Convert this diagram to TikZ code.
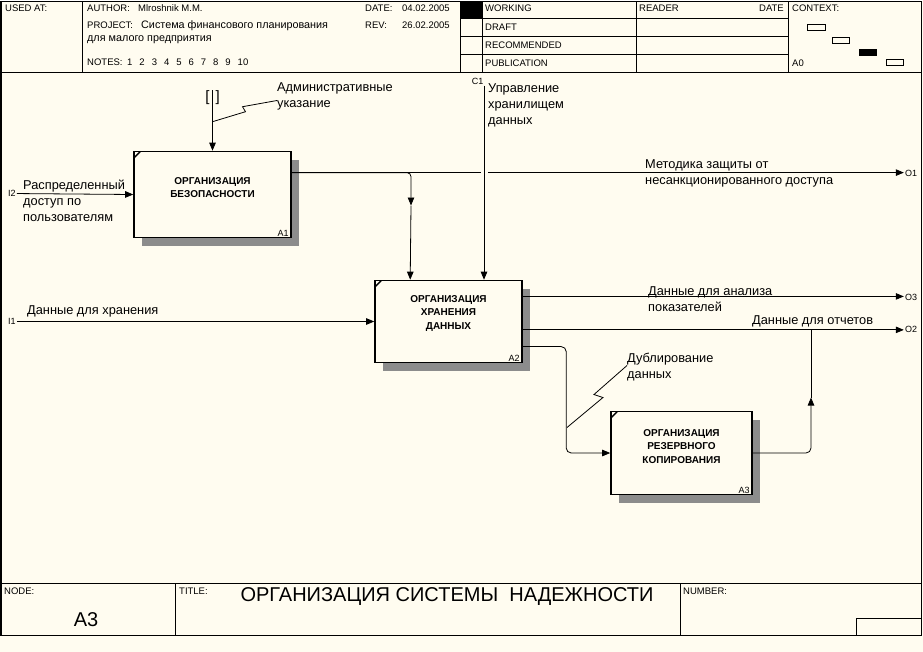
\documentclass[tikz,border=0pt]{standalone}
\usepackage{fontspec}
\setmainfont{Liberation Sans}
\usetikzlibrary{arrows.meta, positioning, calc, patterns, shadows}
\definecolor{paper}{RGB}{255,252,240}

\tikzset{
  border/.style={line width=0.8pt},
  wire/.style={line width=0.8pt},
  flow/.style={line width=0.8pt, -{Triangle[length=8pt, width=6.5pt]}},
  process/.style={draw, line width=1.6pt, fill=paper, inner sep=0pt,
    general shadow={fill=black!45, shadow xshift=8pt, shadow yshift=-8pt}},
  boxlabel/.style={font=\fontsize{10}{13.5}\selectfont\bfseries, align=center},
  note/.style={font=\fontsize{12.8}{16}\selectfont, align=left, anchor=west, inner sep=0pt},
  tag/.style={font=\fontsize{9}{10}\selectfont, inner sep=1pt},
  head/.style={font=\fontsize{9.5}{11}\selectfont, anchor=west, inner sep=0pt},
  headru/.style={font=\fontsize{10.8}{12}\selectfont, anchor=west, inner sep=0pt},
  smalltag/.style={font=\fontsize{9.5}{10}\selectfont, anchor=west, inner sep=0pt},
}

\begin{document}
\begin{tikzpicture}[x=1pt, y=-1pt]
% paper, frame and header grid
\fill[paper] (0,0) rectangle (923,651);
\draw[border] (1.5,0.5) rectangle (921,635);
\draw[line width=2pt] (1,0.5) -- (1,635);
\draw[border] (1.5,72) -- (921,72);
\foreach \x in {82,460,482,636,788} \draw[border] (\x,0.5) -- (\x,72);
\foreach \y in {17.5,35.5,53.5} \draw[border] (460,\y) -- (788,\y);
\fill (460,0.5) rectangle (482,17.5);

% header texts
\node[head] (usedat) at (5,8) {USED AT:};
\node[head] (author) at (87,8) {AUTHOR:};
\node[head] (authorname) at (138,8) {Mlroshnik M.M.};
\node[head] (date) at (365,8) {DATE:};
\node[head] (dateval) at (402,8) {04.02.2005};
\node[head] (project) at (87,25) {PROJECT:};
\node[headru] (projectname) at (141,25) {Система финансового планирования};
\node[headru] (projectname2) at (87,39) {для малого предприятия};
\node[head] (rev) at (365,25) {REV:};
\node[head] (revval) at (402,25) {26.02.2005};
\node[head] (notes) at (87,62) {NOTES:};
\node[head] (notesval) at (127,62) {1\hspace{7pt}2\hspace{7pt}3\hspace{7pt}4\hspace{7pt}5\hspace{7pt}6\hspace{7pt}7\hspace{7pt}8\hspace{7pt}9\hspace{7pt}10};
\node[head] (working) at (485,8) {WORKING};
\node[head] (draft) at (485,27) {DRAFT};
\node[head] (recommended) at (485,45) {RECOMMENDED};
\node[head] (publication) at (485,63) {PUBLICATION};
\node[head] (reader) at (639,8) {READER};
\node[head, anchor=east] (readerdate) at (784,8) {DATE};
\node[head] (context) at (792,8) {CONTEXT:};
\node[head] (contextid) at (792,63) {A0};

% context map
\draw[border] (807,24) rectangle (825,30);
\draw[border] (832,37) rectangle (849,43);
\fill (859,48) rectangle (877,55);
\draw[border] (886,59) rectangle (903,65);

% footer
\draw[border] (1.5,583) -- (921,583);
\draw[border] (175,583) -- (175,635);
\draw[border] (680,583) -- (680,635);
\draw[border] (856,635) |- (921,618);
\node[smalltag] (nodelbl) at (4,591) {NODE:};
\node[font=\fontsize{20}{20}\selectfont] (nodeid) at (86,619) {A3};
\node[smalltag] (titlelbl) at (179,591) {TITLE:};
\node[font=\fontsize{20}{20}\selectfont] (title) at (447,596) {ОРГАНИЗАЦИЯ СИСТЕМЫ\ \ НАДЕЖНОСТИ};
\node[smalltag] (numberlbl) at (683,591) {NUMBER:};

% activity boxes
\node[process, minimum width=157pt, minimum height=86pt] (a1) at (212.5,194) {};
\node[process, minimum width=147pt, minimum height=82pt] (a2) at (448.5,321) {};
\node[process, minimum width=141pt, minimum height=83pt] (a3) at (681.5,452.5) {};
\node[boxlabel] (a1txt) at (212.5,187) {ОРГАНИЗАЦИЯ\\БЕЗОПАСНОСТИ};
\node[boxlabel] (a2txt) at (448.5,312.5) {ОРГАНИЗАЦИЯ\\ХРАНЕНИЯ\\ДАННЫХ};
\node[boxlabel] (a3txt) at (681.5,446) {ОРГАНИЗАЦИЯ\\РЕЗЕРВНОГО\\КОПИРОВАНИЯ};
\node[tag, anchor=south east] (a1id) at ($(a1.south east)+(-2,-1)$) {A1};
\node[tag, anchor=south east] (a2id) at ($(a2.south east)+(-2,-1)$) {A2};
\node[tag, anchor=south east] (a3id) at ($(a3.south east)+(-2,-1)$) {A3};
\draw[line width=1.4pt] ($(a1.north west)+(1,7)$) -- ($(a1.north west)+(7,1)$);
\draw[line width=1.4pt] ($(a2.north west)+(1,7)$) -- ($(a2.north west)+(7,1)$);
\draw[line width=1.4pt] ($(a3.north west)+(1,7)$) -- ($(a3.north west)+(7,1)$);

% boundary tags
\node[tag] (i2) at (12,193) {I2};
\node[tag] (i1) at (12,321) {I1};
\node[tag, anchor=south east, inner sep=0.5pt] (c1) at (484,85) {C1};
\node[tag] (o1) at (911,172.5) {O1};
\node[tag] (o3) at (911,296.4) {O3};
\node[tag] (o2) at (911,329.2) {O2};
\node[font=\fontsize{15}{15}\selectfont, inner sep=0pt] (tun) at (212.5,97) {[\hspace{6pt}]};

% arrow points on the boxes
\coordinate (a1out) at ($(a1.north east)!0.25!(a1.south east)$);
\coordinate (a2out3) at ($(a2.north east)!0.2!(a2.south east)$);
\coordinate (a2out2) at ($(a2.north east)!0.6!(a2.south east)$);
\coordinate (a2out4) at ($(a2.north east)!0.8!(a2.south east)$);
\coordinate (a2ctl1) at ($(a2.north west)+(36,0)$);
\coordinate (a2ctl2) at (c1.south east |- a2.north);
\coordinate (mid1) at (411,205);
\coordinate (mid3) at (811,397);

% arrows
\draw[flow] (i2) -- (a1.west);
\draw[flow] (tun.north) -- (a1.north);
\draw[flow] (a1out) -- (a1out -| o1.west);
\draw[flow, rounded corners=4pt] (a1out) -| (mid1);
\draw[flow] (mid1) -- (a2ctl1);
\draw[flow, preaction={draw=paper, line width=7pt, -}] (c1.south east) -- (a2ctl2);
\draw[flow] (i1) -- (a2.west);
\draw[flow] (a2out3) -- (a2out3 -| o3.west);
\draw[flow] (a2out2) -- (a2out2 -| o2.west);
\draw[flow, rounded corners=5pt] (a2out4) -| ($(a3.west)+(-44,0)$) -- (a3.west);
\draw[flow, rounded corners=5pt] (a3.east) -| (mid3);
\draw[wire, rounded corners=3pt] (mid3) -- (mid3 |- a2out2);

% arrow labels
\node[note] (i2txt) at (23,200) {Распределенный\\доступ по\\пользователям};
\node[note] (admtxt) at (277,96) {Административные\\указание};
\node[note] (c1txt) at (488,105) {Управление\\хранилищем\\данных};
\node[note] (o1txt) at (645,173) {Методика защиты от\\несанкционированного доступа};
\node[note] (i1txt) at (27,311) {Данные для хранения};
\node[note] (o3txt) at (648,299) {Данные для анализа\\показателей};
\node[note] (o2txt) at (752,321) {Данные для отчетов};
\node[note] (duptxt) at (627,367) {Дублирование\\данных};

% squiggles
\coordinate (adm0) at ($(a1.north)+(0,-29)$);
\coordinate (dup0) at (567,427);
\draw[wire] (adm0) -- ++(33,-10) -- ++(-3,-5) -- ($(admtxt.west)+(0,4)$);
\draw[wire] (dup0) -- ++(36,-30) -- ++(-9,-3) -- ($(duptxt.west)+(0,-2)$);
\end{tikzpicture}
\end{document}
